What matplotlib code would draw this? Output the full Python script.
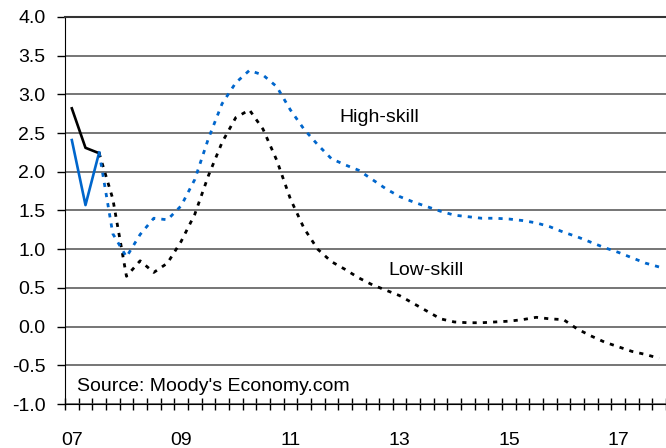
import numpy as np
import matplotlib
matplotlib.use("Agg")
import matplotlib.pyplot as plt
from matplotlib.ticker import FormatStrFormatter

plt.rcParams['font.family'] = ['Liberation Sans', 'DejaVu Sans']
plt.rcParams['axes.unicode_minus'] = False

# quarters 2007Q1 .. 2017Q4
n_q = 44
year_labels = ['07', '09', '11', '13', '15', '17']

# actual values (first three quarters)
low_actual = [2.82, 2.31, 2.24]
high_actual = [2.41, 1.57, 2.25]

# forecast, starting at the third quarter of 2007
low_forecast = [2.24, 1.65, 0.65, 0.85, 0.70, 0.82, 1.10, 1.45, 1.95, 2.38,
                2.70, 2.80, 2.55, 2.15, 1.65, 1.27, 1.00, 0.84, 0.74, 0.63,
                0.54, 0.47, 0.40, 0.30, 0.20, 0.10, 0.06, 0.05, 0.05, 0.06,
                0.07, 0.09, 0.12, 0.10, 0.09, -0.03, -0.12, -0.20, -0.26, -0.32,
                -0.36, -0.41]
high_forecast = [2.25, 1.20, 0.90, 1.19, 1.40, 1.38, 1.56, 1.90, 2.43, 2.88,
                 3.15, 3.31, 3.25, 3.10, 2.80, 2.55, 2.35, 2.17, 2.09, 2.02,
                 1.90, 1.78, 1.68, 1.61, 1.55, 1.49, 1.44, 1.42, 1.40, 1.40,
                 1.39, 1.37, 1.34, 1.29, 1.22, 1.16, 1.09, 1.02, 0.96, 0.89,
                 0.82, 0.77]

blue = '#0066CC'

fig = plt.figure(figsize=(6.66, 4.48), dpi=100)
ax = fig.add_axes([65/666, 1-404/448, 1-65/666, (404-17)/448])

x_act = np.arange(len(low_actual))
x_fc = np.arange(2, 2 + len(low_forecast))

ax.plot(x_act, low_actual, color='black', lw=1.9)
ax.plot(x_act, high_actual, color=blue, lw=1.9)
ax.plot(x_fc, low_forecast, color='black', lw=2.0, dashes=(1.5, 2.2))
ax.plot(x_fc, high_forecast, color=blue, lw=2.0, dashes=(1.5, 2.2))

ax.set_xlim(-0.5, n_q - 0.5)
ax.set_ylim(-1.0, 4.0)
ax.set_yticks(np.arange(-1.0, 4.01, 0.5))
ax.yaxis.set_major_formatter(FormatStrFormatter('%.1f'))
ax.yaxis.grid(True, color='#505050', lw=1.1)
ax.set_axisbelow(True)

ax.set_xticks(np.arange(0, n_q, 8))
ax.set_xticklabels(year_labels)
ax.set_xticks(np.arange(-0.5, n_q, 1), minor=True)
ax.tick_params(axis='x', which='major', length=0, pad=20, labelsize=14)
ax.tick_params(axis='x', which='minor', direction='inout', length=9, width=1)
ax.tick_params(axis='y', direction='out', length=6, width=1, pad=8, labelsize=14)

ax.spines['right'].set_visible(False)
ax.spines['top'].set_color('#333333')
ax.spines['top'].set_linewidth(1.5)

ax.text(19.6, 2.7, 'High-skill', fontsize=14, va='center')
ax.text(23.2, 0.73, 'Low-skill', fontsize=14, va='center')
ax.text(0.4, -0.77, "Source: Moody's Economy.com", fontsize=14, va='center')

fig.savefig('out.png', dpi=100)
